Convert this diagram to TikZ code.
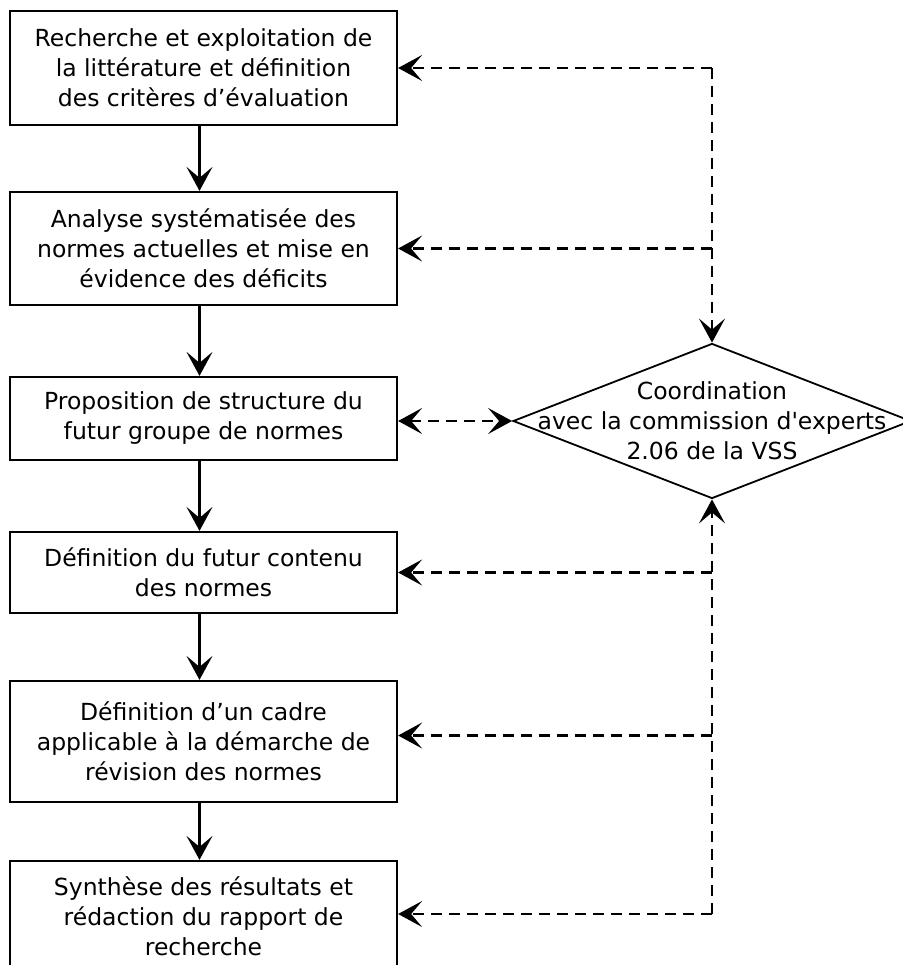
\documentclass[tikz,border=0pt]{standalone}
\usepackage{fontspec}
\setmainfont{DejaVu Sans}
\usetikzlibrary{arrows.meta,positioning,shapes.geometric}

\begin{document}
\begin{tikzpicture}[
  x=1pt, y=-1pt,
  >={Stealth[length=24pt,width=26pt,inset=11pt]},
  every node/.style={font=\fontsize{23.5}{30}\selectfont, align=center, inner sep=0pt},
  stepbox/.style={rectangle, draw, line width=2.2pt, minimum width=387pt},
  coordbox/.style={diamond, draw, line width=1.8pt, minimum width=398pt, minimum height=155pt},
  flow/.style={draw, line width=2.2pt, ->},
  link/.style={draw, line width=2.2pt, dash pattern=on 11pt off 7pt}
]
\useasboundingbox (0,0) rectangle (902,965);

% etapes
\node[stepbox, minimum height=114pt] (b1) at (203.5,68) {Recherche et exploitation de\\la littérature et définition\\des critères d’évaluation};
\node[stepbox, minimum height=113pt, below=64.8pt of b1] (b2) {Analyse systématisée des\\normes actuelles et mise en\\évidence des déficits};
\node[stepbox, minimum height=83pt, below=69.8pt of b2] (b3) {Proposition de structure du\\futur groupe de normes};
\node[stepbox, minimum height=81pt, below=69.8pt of b3] (b4) {Définition du futur contenu\\des normes};
\node[stepbox, minimum height=121pt, below=65.8pt of b4] (b5) {Définition d’un cadre\\applicable à la démarche de\\révision des normes};
\node[stepbox, minimum height=110pt, below=56.8pt of b5] (b6) {Synthèse des résultats et\\rédaction du rapport de\\recherche};

% coordination
\node[coordbox] (coord) at (712,421) {};
\node (coordtext) at (coord.center) {Coordination\\avec la commission d\textquotesingle experts\\2.06 de la VSS};

\foreach \a/\b in {b1/b2,b2/b3,b3/b4,b4/b5,b5/b6}
  \draw[flow] ([xshift=-4pt]\a.south) -- ([xshift=-4pt]\b.north);

% retours
\coordinate (e5) at ([yshift=6pt]b5.east);
\coordinate (e6) at ([yshift=2pt]b6.east);
\coordinate (t1) at (b1.east -| coord.north);
\coordinate (t6) at (e6 -| coord.south);
\draw[link,->] (t1) -- (coord.north);
\draw[link,->] (t6) -- (coord.south);
\foreach \b in {b1.east,b2.east}
  \draw[link,->] (\b -| coord.north) -- (\b);
\foreach \b in {b4.east,e5,e6}
  \draw[link,->] (\b -| coord.south) -- (\b);
\draw[link,<->] (b3.east |- coord.west) -- (coord.west);
\end{tikzpicture}
\end{document}
